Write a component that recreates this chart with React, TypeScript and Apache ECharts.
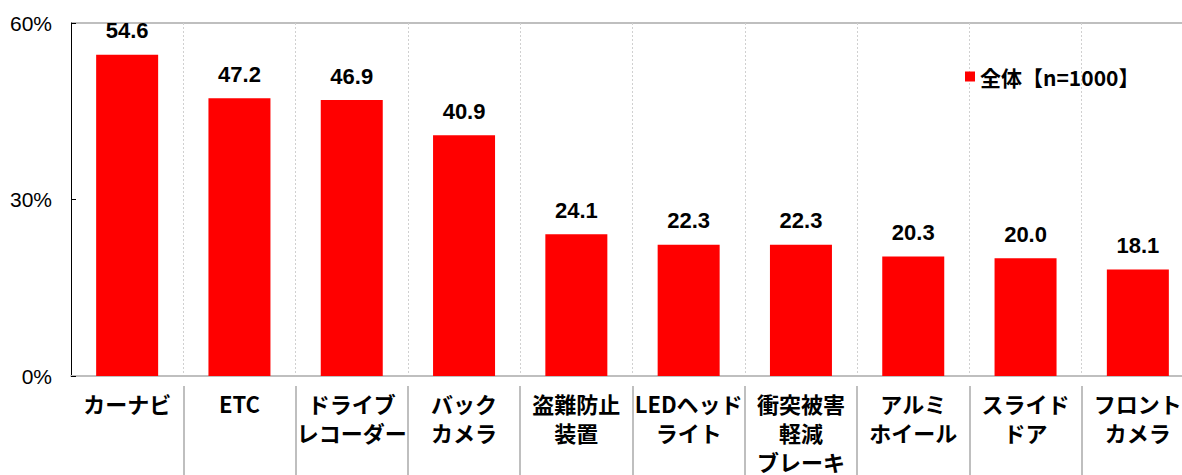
import React, { useEffect, useRef } from "react";
import * as echarts from "echarts";

const categories = [
  "カーナビ",
  "ETC",
  "ドライブ\nレコーダー",
  "バック\nカメラ",
  "盗難防止\n装置",
  "LEDヘッド\nライト",
  "衝突被害\n軽減\nブレーキ",
  "アルミ\nホイール",
  "スライド\nドア",
  "フロント\nカメラ",
];
const values = [54.6, 47.2, 46.9, 40.9, 24.1, 22.3, 22.3, 20.3, 20.0, 18.1];
const seriesName = "全体【n=1000】";
const yTicks = [0, 30, 60];

const CJK = '"Noto Sans CJK JP", "Noto Sans", sans-serif';
const NUM = '"Liberation Sans", Arial, sans-serif';

export default function App() {
  const ref = useRef<HTMLDivElement>(null);
  useEffect(() => {
    if (!ref.current) return;
    const chart = echarts.init(ref.current, undefined, { renderer: "svg" });
    chart.setOption({
      animation: false,
      backgroundColor: "#ffffff",
      grid: { left: 71, top: 23, bottom: 98, right: 0 },
      legend: {
        data: [seriesName],
        left: 960,
        top: 61,
        itemWidth: 10,
        itemHeight: 10,
        itemGap: 5,
        icon: "rect",
        textStyle: { fontFamily: CJK, fontWeight: "bold", fontSize: 21, color: "#000" },
      },
      xAxis: [
        {
          type: "category",
          data: categories,
          position: "bottom",
          axisLine: { show: true, lineStyle: { color: "#bfbfbf", width: 2 } },
          axisTick: { show: false },
          axisLabel: { show: false },
          splitLine: {
            show: true,
            interval: 0,
            lineStyle: { color: "#d0d0d0", type: [2, 2], width: 1 },
          },
        },
        {
          type: "category",
          data: categories,
          position: "bottom",
          offset: 10,
          axisLine: { show: false },
          axisTick: {
            show: true,
            length: 100,
            interval: (i: number) => i > 0,
            lineStyle: { color: "#bfbfbf", width: 2 },
          },
          axisLabel: {
            interval: 0,
            margin: 2,
            fontFamily: CJK,
            fontWeight: "bold",
            fontSize: 22,
            lineHeight: 29,
            color: "#000",
          },
        },
      ],
      yAxis: {
        type: "value",
        min: yTicks[0],
        max: yTicks[yTicks.length - 1],
        interval: yTicks[1] - yTicks[0],
        axisLine: { show: true, lineStyle: { color: "#000", width: 1 } },
        axisTick: { show: true, inside: true, length: 5, lineStyle: { color: "#000" } },
        axisLabel: {
          formatter: "{value}%",
          fontFamily: NUM,
          fontSize: 21,
          color: "#000",
          margin: 19,
        },
        splitLine: {
          show: true,
          lineStyle: { color: ["rgba(0,0,0,0)", "rgba(0,0,0,0)", "#bfbfbf"], width: 2 },
        },
      },
      series: [
        {
          name: seriesName,
          type: "bar",
          data: values,
          xAxisIndex: 0,
          barWidth: 62,
          itemStyle: { color: "#ff0000" },
          label: {
            show: true,
            position: "top",
            distance: 13,
            formatter: (p: any) => p.value.toFixed(1),
            fontFamily: NUM,
            fontWeight: "bold",
            fontSize: 22,
            color: "#000",
          },
        },
      ],
    });
    return () => chart.dispose();
  }, []);
  return (
    <div
      ref={ref}
      style={{ position: "fixed", left: 0, top: 0, width: 1194, height: 475 }}
    />
  );
}
